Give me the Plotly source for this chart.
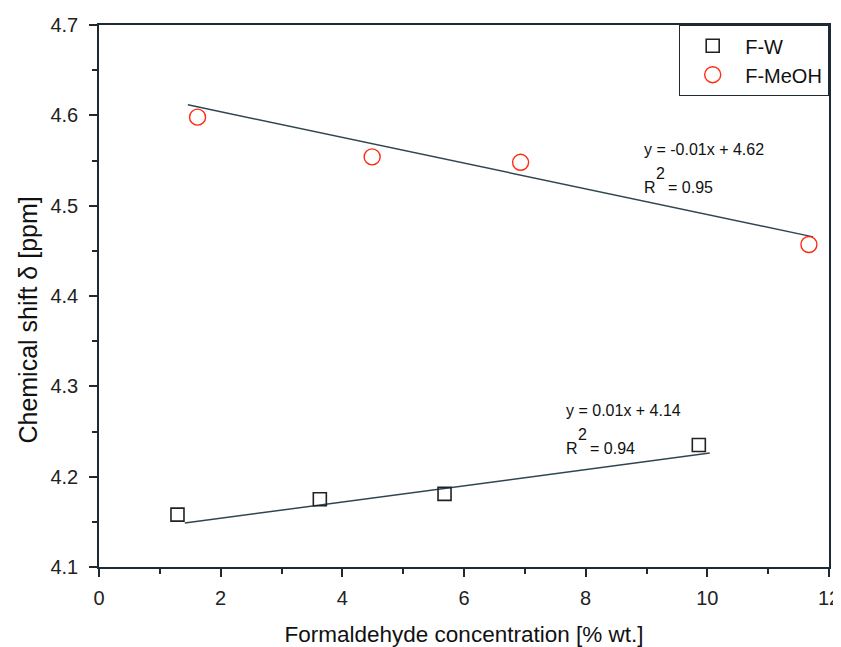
import plotly.graph_objects as go

# Data
fw_x = [1.29, 3.63, 5.68, 9.86]
fw_y = [4.158, 4.175, 4.181, 4.235]
fm_x = [1.62, 4.49, 6.93, 11.67]
fm_y = [4.598, 4.554, 4.548, 4.457]

# Linear fit lines as drawn in the reference (slope, intercept, x-range)
fw_fit = {"slope": 0.00898, "intercept": 4.1360, "x": [1.41, 10.04]}
fm_fit = {"slope": -0.01422, "intercept": 4.6324, "x": [1.46, 11.74]}

# Fit equation labels
fw_eq = "y = 0.01x + 4.14"
fw_r2 = "= 0.94"
fm_eq = "y = -0.01x + 4.62"
fm_r2 = "= 0.95"

x_ticks = [0, 2, 4, 6, 8, 10, 12]
y_ticks = [4.1, 4.2, 4.3, 4.4, 4.5, 4.6, 4.7]

FONT = "Liberation Sans, Arial, sans-serif"
AX = "#1e2a33"
LINE = "#2f4650"

def fit_y(fit):
    return [fit["slope"] * x + fit["intercept"] for x in fit["x"]]

fig = go.Figure()
fig.add_trace(go.Scatter(x=fw_fit["x"], y=fit_y(fw_fit), mode="lines",
                         line=dict(color=LINE, width=1.5), showlegend=False,
                         hoverinfo="skip"))
fig.add_trace(go.Scatter(x=fm_fit["x"], y=fit_y(fm_fit), mode="lines",
                         line=dict(color=LINE, width=1.5), showlegend=False,
                         hoverinfo="skip"))
fig.add_trace(go.Scatter(x=fw_x, y=fw_y, mode="markers", name="F-W",
                         marker=dict(symbol="square-open", size=13,
                                     color="#222222", line=dict(width=1.6))))
fig.add_trace(go.Scatter(x=fm_x, y=fm_y, mode="markers", name="F-MeOH",
                         marker=dict(symbol="circle-open", size=16,
                                     color="#ff2a10", line=dict(width=1.4))))

ann_font = dict(family=FONT, size=16, color="#111111")

def add_eq(x, y_eq, y_r2, eq, r2):
    fig.add_annotation(x=x, y=y_eq, text=eq, showarrow=False,
                       xanchor="left", yanchor="middle", font=ann_font)
    fig.add_annotation(x=x, y=y_r2, text="R", showarrow=False,
                       xanchor="left", yanchor="middle", font=ann_font)
    fig.add_annotation(x=x, y=y_r2, text="2", showarrow=False, xshift=12, yshift=14,
                       xanchor="left", yanchor="middle", font=ann_font)
    fig.add_annotation(x=x, y=y_r2, text=r2, showarrow=False, xshift=24,
                       xanchor="left", yanchor="middle", font=ann_font)

add_eq(8.93, 4.562, 4.520, fm_eq, fm_r2)
add_eq(7.64, 4.273, 4.231, fw_eq, fw_r2)

# Y-axis title (as a rotated annotation to match the reference's placement)
fig.add_annotation(xref="paper", yref="paper", x=-0.097, y=0.455,
                   text="Chemical shift δ [ppm]", textangle=-90, showarrow=False,
                   xanchor="center", yanchor="middle",
                   font=dict(family=FONT, size=25, color="#111111"))

axis_common = dict(
    showgrid=False, zeroline=False, showline=True, linecolor=AX, linewidth=1.5,
    mirror=True, ticks="outside", ticklen=8, tickwidth=1.5, tickcolor=AX,
    tickfont=dict(family=FONT, size=20, color="#222222"),
)

fig.update_xaxes(range=[0, 12], tickvals=x_ticks, ticktext=[str(v) for v in x_ticks],
                 minor=dict(ticks="outside", ticklen=5, tickwidth=1.5, tickcolor=AX, dtick=1),
                 ticklabelstandoff=4,
                 title=dict(text="Formaldehyde concentration [% wt.]",
                            font=dict(family=FONT, size=22.5, color="#111111"), standoff=20),
                 **axis_common)
fig.update_yaxes(range=[4.1, 4.7], tickvals=y_ticks, ticktext=[f"{v:.1f}" for v in y_ticks],
                 minor=dict(ticks="outside", ticklen=5, tickwidth=1.5, tickcolor=AX, dtick=0.05),
                 ticklabelstandoff=7,
                 **axis_common)

fig.update_layout(
    width=833, height=639,
    margin=dict(l=91, r=12, t=17, b=80, autoexpand=False),
    plot_bgcolor="white", paper_bgcolor="white",
    font=dict(family=FONT),
    legend=dict(x=1.0, xanchor="right", y=1, yanchor="top",
                bordercolor=AX, borderwidth=1.2, bgcolor="white",
                font=dict(family=FONT, size=20, color="#111111"),
                itemsizing="trace", tracegroupgap=0, itemwidth=55),
    showlegend=True,
)

fig.write_html("out.html")
